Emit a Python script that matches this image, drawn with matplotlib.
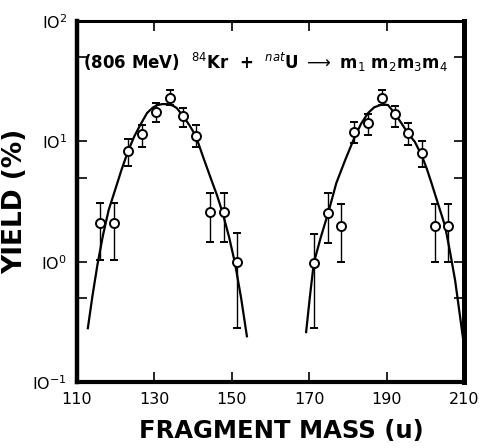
import matplotlib
matplotlib.use("Agg")
import matplotlib.pyplot as plt
from matplotlib.ticker import FixedLocator, NullFormatter

# data: fragment mass (u), yield (%), error bar ends
masa_izq = [115.9, 119.6, 123.2, 126.8, 130.4, 134.0, 137.4, 140.7, 144.4, 148.0, 151.3]
yield_izq = [2.09, 2.09, 8.3, 11.5, 17.5, 22.9, 16.2, 11.1, 2.58, 2.58, 0.99]
err_alto_izq = [3.1, 3.1, 10.5, 13.6, 21.0, 26.7, 18.9, 13.6, 3.72, 3.72, 1.73]
err_bajo_izq = [1.03, 1.03, 6.3, 9.0, 14.5, 20.0, 13.2, 9.0, 1.46, 1.46, 0.28]

masa_der = [171.2, 174.9, 178.2, 181.6, 185.2, 188.8, 192.2, 195.5, 199.1, 202.5, 205.9]
yield_der = [0.98, 2.54, 1.98, 11.9, 14.2, 22.9, 16.9, 11.7, 8.0, 1.98, 1.98]
err_alto_der = [1.7, 3.7, 3.0, 14.5, 16.9, 26.7, 19.6, 14.2, 10.0, 3.0, 3.0]
err_bajo_der = [0.28, 1.44, 0.99, 9.7, 11.2, 20.0, 13.2, 9.3, 6.1, 1.0, 1.0]

# fitted curves, points
curva_izq_x = [112.8, 114.0, 115.3, 116.7, 118.2, 119.8, 121.5, 123.2, 124.8, 126.3,
               128.1, 129.5, 130.7, 132.0, 133.5, 134.8, 135.8, 137.4, 139.0, 140.7,
               142.6, 144.6, 146.2, 147.7, 149.3, 150.8, 152.4, 153.9]
curva_izq_y = [0.28, 0.52, 0.95, 1.65, 2.7, 3.9, 5.8, 8.3, 11.0, 13.6,
               17.2, 19.0, 20.0, 20.4, 20.4, 19.8, 18.9, 16.2, 13.7, 11.1,
               7.4, 4.9, 3.55, 2.5, 1.6, 0.98, 0.5, 0.24]
curva_der_x = [169.2, 170.2, 171.2, 173.0, 174.9, 177.0, 179.3, 181.6, 183.4, 185.2,
               186.8, 188.3, 189.4, 190.4, 192.2, 193.8, 195.5, 197.3, 199.1, 200.4,
               201.6, 203.4, 205.1, 206.4, 207.7, 209.7]
curva_der_y = [0.26, 0.52, 0.98, 1.6, 2.54, 4.5, 7.0, 10.6, 14.0, 17.2,
               19.2, 20.0, 20.3, 20.0, 16.9, 14.2, 11.7, 9.9, 7.6, 5.9,
               4.5, 2.95, 1.98, 1.2, 0.70, 0.236]

x_ticks = [110, 130, 150, 170, 190, 210]
y_ticks = [0.1, 1, 10, 100]
y_tick_labels = [r"$\mathregular{IO^{-1}}$", r"$\mathregular{IO^{0}}$",
                 r"$\mathregular{IO^{1}}$", r"$\mathregular{IO^{2}}$"]
y_minor = [0.5, 5, 50]

plt.rcParams["font.family"] = ["DejaVu Sans"]

fig = plt.figure(figsize=(4.83, 4.48), dpi=100)
ax = fig.add_axes([0.1594, 0.1473, 0.8013, 0.8057])

for mx, my, hi, lo in [(masa_izq, yield_izq, err_alto_izq, err_bajo_izq),
                       (masa_der, yield_der, err_alto_der, err_bajo_der)]:
    yerr = [[y - l for y, l in zip(my, lo)], [h - y for y, h in zip(my, hi)]]
    ax.errorbar(mx, my, yerr=yerr, fmt="o", mfc="white", mec="black", mew=1.4,
                ms=6.5, ecolor="black", elinewidth=1.0, capsize=3.2, capthick=1.0,
                zorder=3)

ax.plot(curva_izq_x, curva_izq_y, color="black", lw=1.6, zorder=2)
ax.plot(curva_der_x, curva_der_y, color="black", lw=1.6, zorder=2)

ax.set_yscale("log")
ax.set_xlim(110, 210)
ax.set_ylim(0.1, 100)

ax.xaxis.set_major_locator(FixedLocator(x_ticks))
ax.set_xticklabels([str(t) for t in x_ticks])
ax.yaxis.set_major_locator(FixedLocator(y_ticks))
ax.set_yticklabels(y_tick_labels)
ax.yaxis.set_minor_locator(FixedLocator(y_minor))
ax.yaxis.set_minor_formatter(NullFormatter())

ax.tick_params(axis="both", which="both", direction="in", top=True, right=True,
               width=1.2, color="black")
ax.tick_params(axis="both", which="major", length=7, labelsize=11.5, pad=7)
ax.tick_params(axis="y", which="minor", length=7)

for side, lw in [("left", 3.2), ("bottom", 3.0), ("top", 2.2), ("right", 3.6)]:
    ax.spines[side].set_linewidth(lw)

ax.text(0.015, 0.885,
        r"(806 MeV)  $^{84}$Kr  +  $^{nat}$U $\longrightarrow$ m$_1$ m$_2$m$_3$m$_4$",
        transform=ax.transAxes, fontsize=12, fontweight="bold", ha="left",
        va="center")

ax.set_xlabel("FRAGMENT MASS (u)", fontsize=17.5, fontweight="bold", labelpad=9)
ax.xaxis.label.set_x(0.528)
ax.set_ylabel("YIELD (%)", fontsize=19, fontweight="bold", labelpad=3)

fig.savefig("out.png", dpi=100)
